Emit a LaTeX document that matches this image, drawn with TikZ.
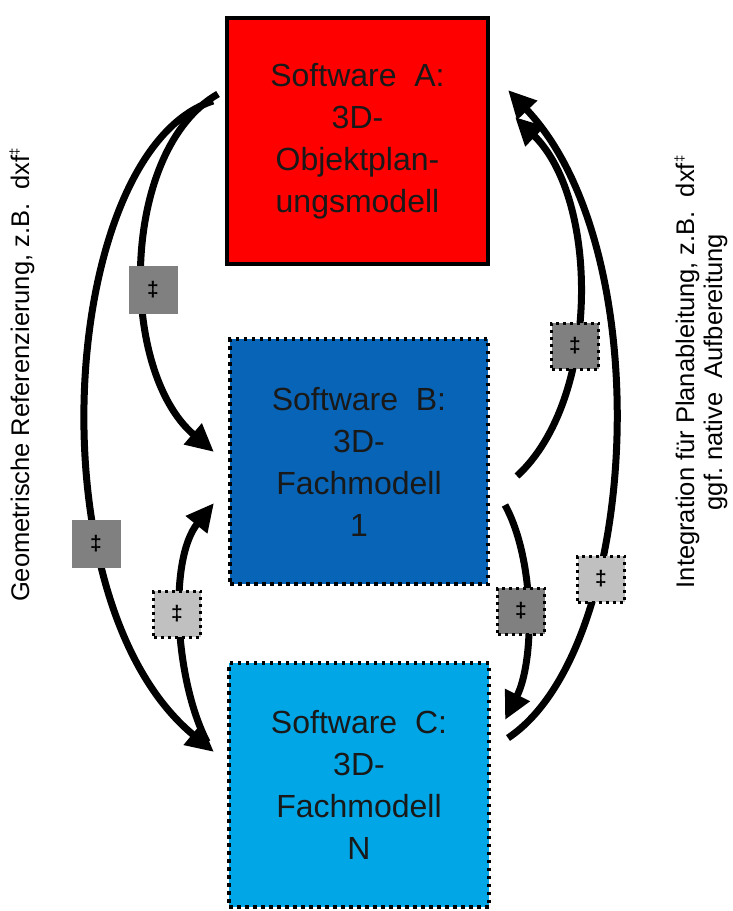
\documentclass[tikz,border=0pt]{standalone}
\usepackage{fontspec}
\setmainfont{Liberation Sans}
\usetikzlibrary{arrows.meta}
\definecolor{redA}{RGB}{255,0,0}
\definecolor{blueB}{RGB}{8,100,182}
\definecolor{blueC}{RGB}{0,166,230}
\definecolor{sqmid}{RGB}{128,128,128}
\definecolor{sqlight}{RGB}{192,192,192}
\begin{document}
\begin{tikzpicture}[x=1pt,y=-1pt,
  boxtext/.style={align=center,font=\fontsize{32}{42}\selectfont,text=black!90,inner sep=0pt},
  solidbox/.style={boxtext,draw=black,line width=4.5pt},
  dotbox/.style={boxtext,draw=black,line width=4pt,dash pattern=on 3.5pt off 4.5pt},
  conn/.style={line width=7pt,-{Triangle[length=28pt,width=26pt]}},
  sqsolid/.style={fill=sqmid,minimum width=49pt,minimum height=48pt,inner sep=0pt,font=\fontsize{21}{21}\selectfont\bfseries},
  sqdot/.style={draw=black,line width=3pt,dash pattern=on 3pt off 4pt,minimum width=47pt,minimum height=46pt,inner sep=0pt,font=\fontsize{21}{21}\selectfont\bfseries},
  sidetext/.style={rotate=90,align=center,font=\fontsize{25.5}{28}\selectfont,inner sep=0pt}
]
\useasboundingbox (0,0) rectangle (732,911);

% boxes
\node[solidbox,fill=redA,minimum width=261pt,minimum height=246pt] (A) at (357.5,141)
  {Software\ \ A:\\3D-\\Objektplan-\\ungsmodell};
\node[dotbox,fill=blueB,minimum width=258pt,minimum height=245pt] (B) at (359,461.5)
  {Software\ \ B:\\3D-\\Fachmodell\\1};
\node[dotbox,fill=blueC,minimum width=260pt,minimum height=244pt] (C) at (359,785)
  {Software\ \ C:\\3D-\\Fachmodell\\N};

% connector end points
\coordinate (a1) at (218,94);
\coordinate (a2) at (213,101);
\coordinate (aR1) at (508,90);
\coordinate (aR2) at (515,117);
\coordinate (bL1) at (214,452);
\coordinate (bL2) at (214,503);
\coordinate (bR1) at (517,476);
\coordinate (bR2) at (505,505);
\coordinate (cL1) at (214,752);
\coordinate (cL2) at (207,742);
\coordinate (cR1) at (505,720);
\coordinate (cR2) at (508,738);

% left side
\draw[conn] (a1) .. controls (120,150) and (118,370) .. (bL1);
\draw[conn] (a2) .. controls (60,150) and (30,600) .. (cL1);
\draw[conn] (cL2) .. controls (175,680) and (168,560) .. (bL2);
% right side
\draw[conn] (bR1) .. controls (600,400) and (600,200) .. (aR2);
\draw[conn] (cR2) .. controls (640,650) and (660,250) .. (aR1);
\draw[conn] (bR2) .. controls (535,560) and (535,660) .. (cR1);

% labels on connectors
\node[sqsolid] (s1) at (153,290) {‡};
\node[sqsolid] (s6) at (96,544) {‡};
\node[sqdot,fill=sqlight] (s3) at (177,614) {‡};
\node[sqdot,fill=sqmid] (s2) at (575,346) {‡};
\node[sqdot,fill=sqmid] (s4) at (521,611) {‡};
\node[sqdot,fill=sqlight] (s5) at (601,579) {‡};

% side texts
\node[sidetext] (tl) at (22,375) {Geometrische Referenzierung, z.B.\ \ dxf\raisebox{0.4em}{\fontsize{13}{13}\selectfont ‡}};
\node[sidetext] (tr) at (701,372) {Integration für Planableitung, z.B.\ \ dxf\raisebox{0.4em}{\fontsize{13}{13}\selectfont ‡}\\ggf.\ native\ \ Aufbereitung};
\end{tikzpicture}
\end{document}
